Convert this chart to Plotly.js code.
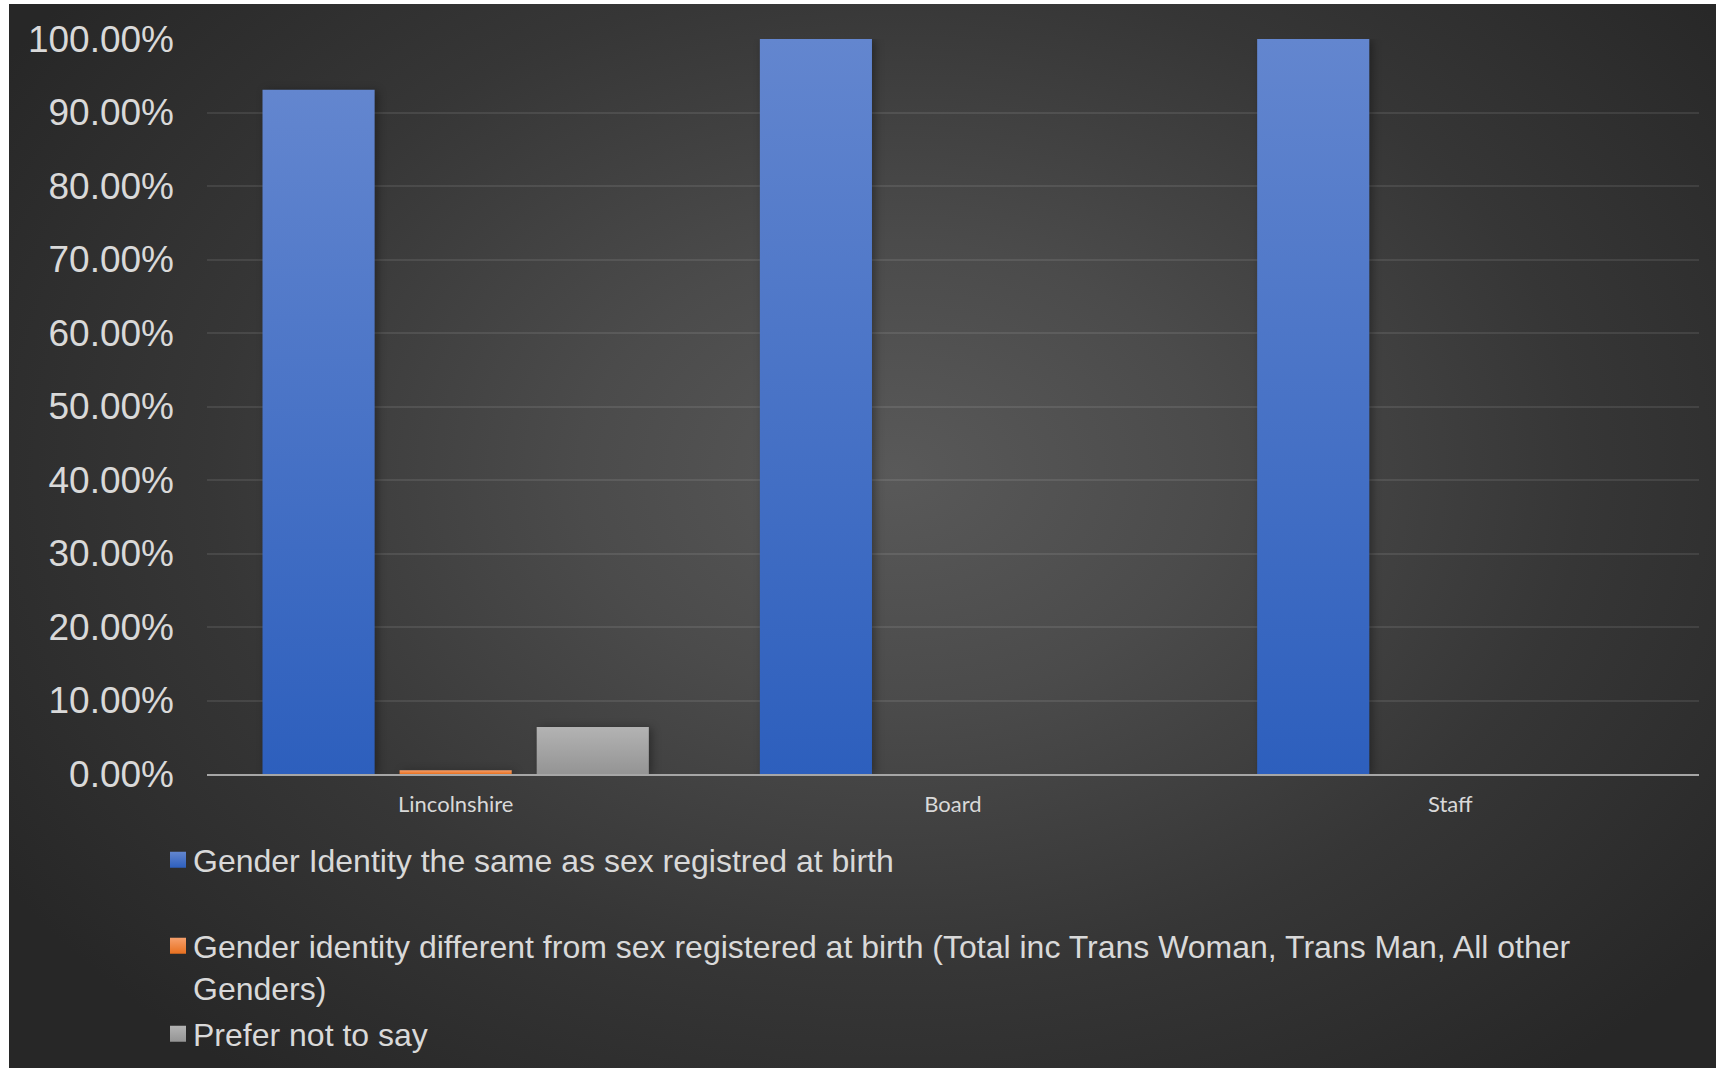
<!DOCTYPE html>
<html><head><meta charset="utf-8">
<script src="https://cdn.plot.ly/plotly-3.0.1.min.js"></script>
<style>
html,body{margin:0;padding:0;background:#ffffff;}
#bg{position:absolute;left:9px;top:4px;width:1707px;height:1064px;
 background:radial-gradient(ellipse 62% 72% at 52% 44%, #595959 0%, #4b4b4b 30%, #363636 65%, #272727 100%);}
#chart{position:absolute;left:0;top:0;width:1716px;height:1068px;}
</style></head><body>
<div id="bg"></div><div id="chart"></div>
<script>
const categories = ['Lincolnshire', 'Board', 'Staff'];
const seriesNames = [
  'Gender Identity the same as sex registred at birth',
  'Gender identity different from sex registered at birth (Total inc Trans Woman, Trans Man, All other Genders)',
  'Prefer not to say'
];
const sameAsBirth = [0.931, 1.0, 1.0];
const differentFromBirth = [0.005, 0, 0];
const preferNotToSay = [0.064, 0, 0];
const yTickValues = [0, 0.1, 0.2, 0.3, 0.4, 0.5, 0.6, 0.7, 0.8, 0.9, 1.0];

const seriesValues = [sameAsBirth, differentFromBirth, preferNotToSay];
const baseColors = ['#4472C4', '#ED7D31', '#A5A5A5'];
const gradStops = [['#6386cf', '#2d5fbd'], ['#f6a06c', '#e8701f'], ['#b3b3b3', '#949494']];
const legendIds = ['legend', 'legend2', 'legend3'];
const legendLabels = seriesNames.map(n => n.replace(' All other Genders)', ' All other<br>Genders)'));

const traces = seriesValues.map((vals, i) => ({
  type: 'bar', x: categories, y: vals, name: legendLabels[i],
  marker: {color: baseColors[i], line: {width: 0}},
  legend: legendIds[i], hoverinfo: 'skip'
}));

const legendFont = {family: 'Liberation Sans, Arial, sans-serif', size: 32, color: '#d9d9d9'};
function legendObj(ycenter) {
  return {xref: 'container', yref: 'container', x: 153/1716, xanchor: 'left',
    y: 1 - ycenter/1068, yanchor: 'middle', bgcolor: 'rgba(0,0,0,0)', borderwidth: 0,
    font: legendFont, valign: 'top', itemclick: false, itemdoubleclick: false};
}

const layout = {
  width: 1716, height: 1068,
  paper_bgcolor: 'rgba(0,0,0,0)', plot_bgcolor: 'rgba(0,0,0,0)',
  margin: {l: 207, r: 17, t: 39, b: 294, autoexpand: false},
  barmode: 'group', bargap: 0.173, bargroupgap: 0.182,
  xaxis: {type: 'category', showgrid: false, zeroline: false, showline: true,
    linecolor: '#a6a6a6', linewidth: 2, ticks: '', ticklabelstandoff: 10,
    tickfont: {family: 'Lato, Open Sans, sans-serif', size: 22, color: '#d9d9d9'}},
  yaxis: {range: [0, 1], tickvals: yTickValues, tickformat: '.2%', showgrid: true,
    gridcolor: 'rgba(255,255,255,0.09)', gridwidth: 2, zeroline: false, showline: false,
    ticks: '', ticklabelstandoff: 32,
    tickfont: {family: 'Liberation Sans, Arial, sans-serif', size: 37, color: '#d9d9d9'}},
  showlegend: true,
  legend: legendObj(860),
  legend2: legendObj(967),
  legend3: legendObj(1034)
};

Plotly.newPlot('chart', traces, layout, {displayModeBar: false, staticPlot: true}).then(() => {
  const NS = 'http://www.w3.org/2000/svg';
  const svg = document.querySelector('#chart .main-svg');
  let defs = svg.querySelector('defs');
  if (!defs) { defs = document.createElementNS(NS, 'defs'); svg.insertBefore(defs, svg.firstChild); }
  gradStops.forEach((st, i) => {
    const lg = document.createElementNS(NS, 'linearGradient');
    lg.setAttribute('id', 'barGrad' + i);
    lg.setAttribute('x1', '0'); lg.setAttribute('y1', '0');
    lg.setAttribute('x2', '0'); lg.setAttribute('y2', '1');
    [[0, st[0]], [1, st[1]]].forEach(([o, c]) => {
      const s = document.createElementNS(NS, 'stop');
      s.setAttribute('offset', o); s.setAttribute('stop-color', c);
      lg.appendChild(s);
    });
    defs.appendChild(lg);
  });
  document.querySelectorAll('#chart .barlayer .trace').forEach((tr, i) => {
    tr.querySelectorAll('path').forEach(p => {
      p.style.fill = 'url(#barGrad' + i + ')';
      p.style.filter = 'drop-shadow(3px 1px 4px rgba(0,0,0,0.35))';
    });
  });
  legendIds.forEach((id, i) => {
    document.querySelectorAll('#chart g.' + id + ' .legendpoints path').forEach(p => {
      p.setAttribute('d', 'M13,8H-3V-8H13Z');
      p.style.fill = 'url(#barGrad' + i + ')';
    });
  });
});
</script>
</body></html>
